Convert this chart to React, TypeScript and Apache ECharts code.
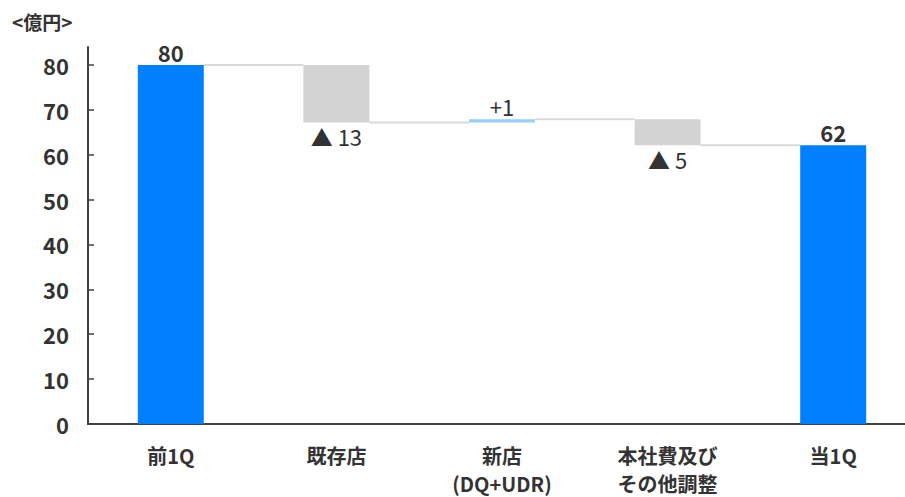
import React, { useEffect, useRef } from "react";
import * as echarts from "echarts";

const categories = ["前1Q", "既存店", "新店\n(DQ+UDR)", "本社費及び\nその他調整", "当1Q"];
const deltas = [80, -12.8, 0.7, -5.8, 62.1];
const valueLabels = ["80", "▲ 13", "+1", "▲ 5", "62"];
const yTicks = [0, 10, 20, 30, 40, 50, 60, 70, 80];

const FONT = "'Noto Sans CJK JP', 'Noto Sans', sans-serif";
const BLUE = "#0080ff";
const LIGHT_BLUE = "#99ccff";
const GRAY = "#d3d3d3";

export default function App() {
  const ref = useRef<HTMLDivElement>(null);
  useEffect(() => {
    if (!ref.current) return;
    const chart = echarts.init(ref.current, undefined, { renderer: "svg" });

    const base: number[] = [];
    const height: number[] = [];
    const levels: number[] = [];
    let running = 0;
    deltas.forEach((d, i) => {
      if (i === 0 || i === deltas.length - 1) {
        base.push(0);
        height.push(d);
        running = d;
      } else if (d >= 0) {
        base.push(running);
        height.push(d);
        running += d;
      } else {
        base.push(running + d);
        height.push(-d);
        running += d;
      }
      levels.push(running);
    });

    const colors = deltas.map((d, i) =>
      i === 0 || i === deltas.length - 1 ? BLUE : d >= 0 ? LIGHT_BLUE : GRAY
    );

    const barW = 66;

    chart.setOption({
      animation: false,
      textStyle: { fontFamily: FONT },
      grid: { left: 88, right: 0, top: 47, bottom: 73, containLabel: false },
      graphic: [
        {
          type: "text",
          left: 12,
          top: 12,
          style: { text: "<億円>", fontSize: 19, fontWeight: "bold", fill: "#333", fontFamily: FONT },
        },
      ],
      xAxis: {
        type: "category",
        data: categories,
        axisLine: { lineStyle: { color: "#404040", width: 2 } },
        axisTick: { show: false },
        axisLabel: {
          color: "#333",
          fontSize: 20,
          fontWeight: "bold",
          fontFamily: FONT,
          margin: 17,
          lineHeight: 28,
          interval: 0,
        },
      },
      yAxis: {
        type: "value",
        min: 0,
        max: 84,
        interval: 10,
        splitLine: { show: false },
        axisLine: { show: true, lineStyle: { color: "#404040", width: 2 } },
        axisTick: { show: true, inside: true, length: 6, customValues: yTicks, lineStyle: { color: "#404040", width: 1.5 } },
        axisLabel: {
          color: "#333",
          fontSize: 22,
          fontWeight: "bold",
          fontFamily: FONT,
          margin: 19,
          customValues: yTicks,
        },
      },
      series: [
        {
          type: "bar",
          stack: "w",
          barWidth: barW,
          data: base,
          itemStyle: { color: "transparent" },
          silent: true,
        },
        {
          type: "bar",
          stack: "w",
          barWidth: barW,
          data: height.map((h, i) => ({
            value: h,
            itemStyle: { color: colors[i] },
            label: {
              show: true,
              position: i === 1 || i === 3 ? "bottom" : "top",
              distance: i === 1 || i === 3 ? 3 : 2,
              formatter: () => valueLabels[i],
              fontSize: 22,
              fontWeight: i === 0 || i === deltas.length - 1 ? "bold" : "normal",
              color: "#333",
              fontFamily: FONT,
            },
          })),
        },
        {
          type: "custom",
          silent: true,
          data: levels.slice(0, -1).map((l, i) => [i, l]),
          renderItem: (params: any, api: any) => {
            const i = api.value(0);
            const v = api.value(1);
            const p0 = api.coord([i, v]);
            const p1 = api.coord([i + 1, v]);
            return {
              type: "line",
              shape: { x1: p0[0] + barW / 2, y1: p0[1], x2: p1[0] - barW / 2, y2: p1[1] },
              style: { stroke: "#d9d9d9", lineWidth: 2 },
            };
          },
          z: 1,
        },
      ],
    });
    return () => chart.dispose();
  }, []);
  return (
    <div style={{ position: "fixed", left: 0, top: 0, width: 905, height: 497, overflow: "hidden", background: "#fff" }}>
      <div ref={ref} style={{ width: 916, height: 497 }} />
    </div>
  );
}
